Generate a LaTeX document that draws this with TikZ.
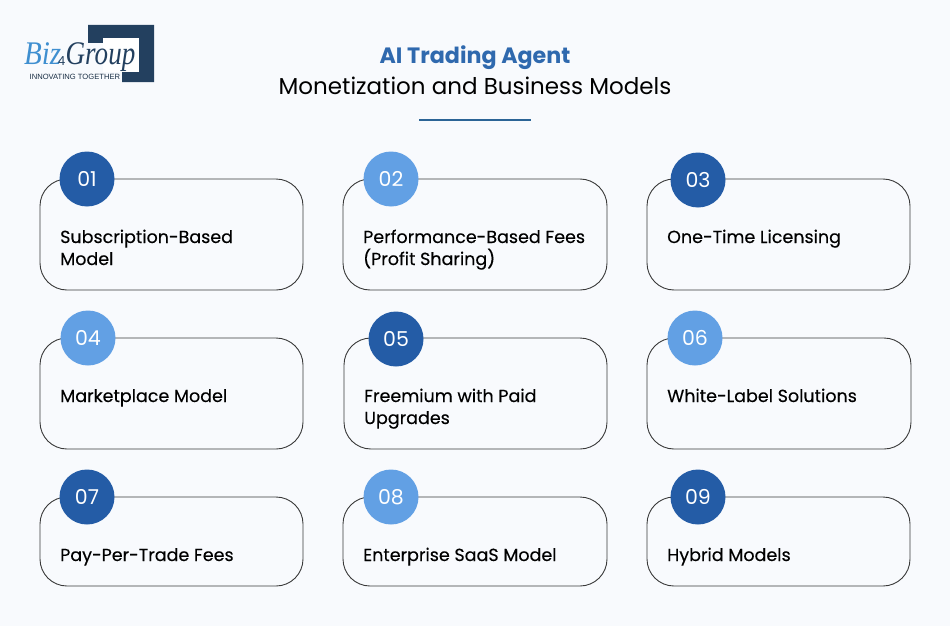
\documentclass[tikz,border=0pt]{standalone}
\usepackage{fontspec}
\setmainfont{Poppins}
\newfontfamily\medfont{Poppins}[FakeBold=0.25]
\newfontfamily\logoserif{Liberation Serif}[Ligatures=TeX]
\newfontfamily\logosans{Liberation Sans}
\definecolor{bgc}{HTML}{F8FAFD}
\definecolor{deep}{HTML}{245CA6}
\definecolor{light}{HTML}{62A0E4}
\definecolor{titleblue}{HTML}{2F69AE}
\definecolor{rulec}{HTML}{2B6496}
\definecolor{navy}{HTML}{23405F}
\definecolor{logoblue}{HTML}{3F8FD0}
\definecolor{edgec}{HTML}{3A3A3A}
\tikzset{
 x=1pt,y=-1pt,
 card/.style={draw=edgec,line width=0.9pt,rounded corners=27pt,fill=bgc},
 badge/.style={circle,minimum size=55pt,inner sep=0pt,text=white,font=\fontsize{20.5}{20.5}\selectfont},
 dark/.style={badge,fill=deep},
 pale/.style={badge,fill=light},
 lab/.style={anchor=base west,inner sep=0pt,align=left,text=black,font=\medfont\fontsize{17.5}{22}\selectfont},
}
\begin{document}
\begin{tikzpicture}
\fill[bgc] (0,0) rectangle (950,626);
\useasboundingbox (0,0) rectangle (950,626);
% logo
\fill[navy] (88,25) -- (154,25) -- (154,82) -- (122,82) -- (122,72) -- (139,72) -- (139,38) -- (103,38) -- (103,43) -- (88,43) -- cycle;
\fill[white] (103,38) rectangle (139,72);
\node[anchor=base west,inner sep=0pt,text=logoblue,font=\logoserif\itshape\fontsize{33}{33}\selectfont,xscale=.88] (lbiz) at (24,65) {Biz};
\node[anchor=base west,inner sep=0pt,text=navy,font=\logosans\fontsize{13}{13}\selectfont] (lfour) at (58,66) {4};
\node[anchor=base west,inner sep=0pt,text=navy,font=\logoserif\itshape\fontsize{33}{33}\selectfont,xscale=.82] (lgroup) at (65.5,65) {Group};
\node[anchor=base west,inner sep=0pt,text=navy!70!black,font=\logosans\fontsize{7.6}{8}\selectfont] (ltag) at (29.5,79) {INNOVATING TOGETHER};
% title
\node[inner sep=0pt,text=titleblue,font=\fontsize{22.2}{23}\selectfont\bfseries] (t1) at (475,58) {AI Trading Agent};
\node[inner sep=0pt,text=black,font=\fontsize{23}{24}\selectfont] (t2) at (475,86) {Monetization and Business Models};
\coordinate (ra) at (419,120);
\coordinate (rb) at (531,120);
\draw[rulec,line width=1.4pt] (ra) -- (rb);
% cards
\draw[card] (40,179) rectangle (303,290);
\draw[card] (343,179) rectangle (607,290);
\draw[card] (647,179) rectangle (910,290);
\draw[card] (40,338) rectangle (303,449);
\draw[card] (344,338) rectangle (607,449);
\draw[card] (647,338) rectangle (911,449);
\draw[card] (40,497) rectangle (303,586);
\draw[card] (343,497) rectangle (607,586);
\draw[card] (647,497) rectangle (910,586);
% badges
\node[dark] (n1) at (87,179) {01};
\node[pale] (n2) at (391,179) {02};
\node[dark] (n3) at (698,180) {03};
\node[pale] (n4) at (88,338) {04};
\node[dark] (n5) at (396,339) {05};
\node[pale] (n6) at (695,338) {06};
\node[dark] (n7) at (87,497) {07};
\node[pale] (n8) at (391,497) {08};
\node[dark] (n9) at (698,497) {09};
% labels
\node[lab] (l1) at (60,265) {Subscription-Based\\Model};
\node[lab] (l2) at (363,265) {Performance-Based Fees\\(Profit Sharing)};
\node[lab] (l3) at (667,243) {One-Time Licensing};
\node[lab] (l4) at (60,402) {Marketplace Model};
\node[lab] (l5) at (364,424) {Freemium with Paid\\Upgrades};
\node[lab] (l6) at (667,402) {White-Label Solutions};
\node[lab] (l7) at (60,561) {Pay-Per-Trade Fees};
\node[lab] (l8) at (363,561) {Enterprise SaaS Model};
\node[lab] (l9) at (667,561) {Hybrid Models};
\end{tikzpicture}
\end{document}
